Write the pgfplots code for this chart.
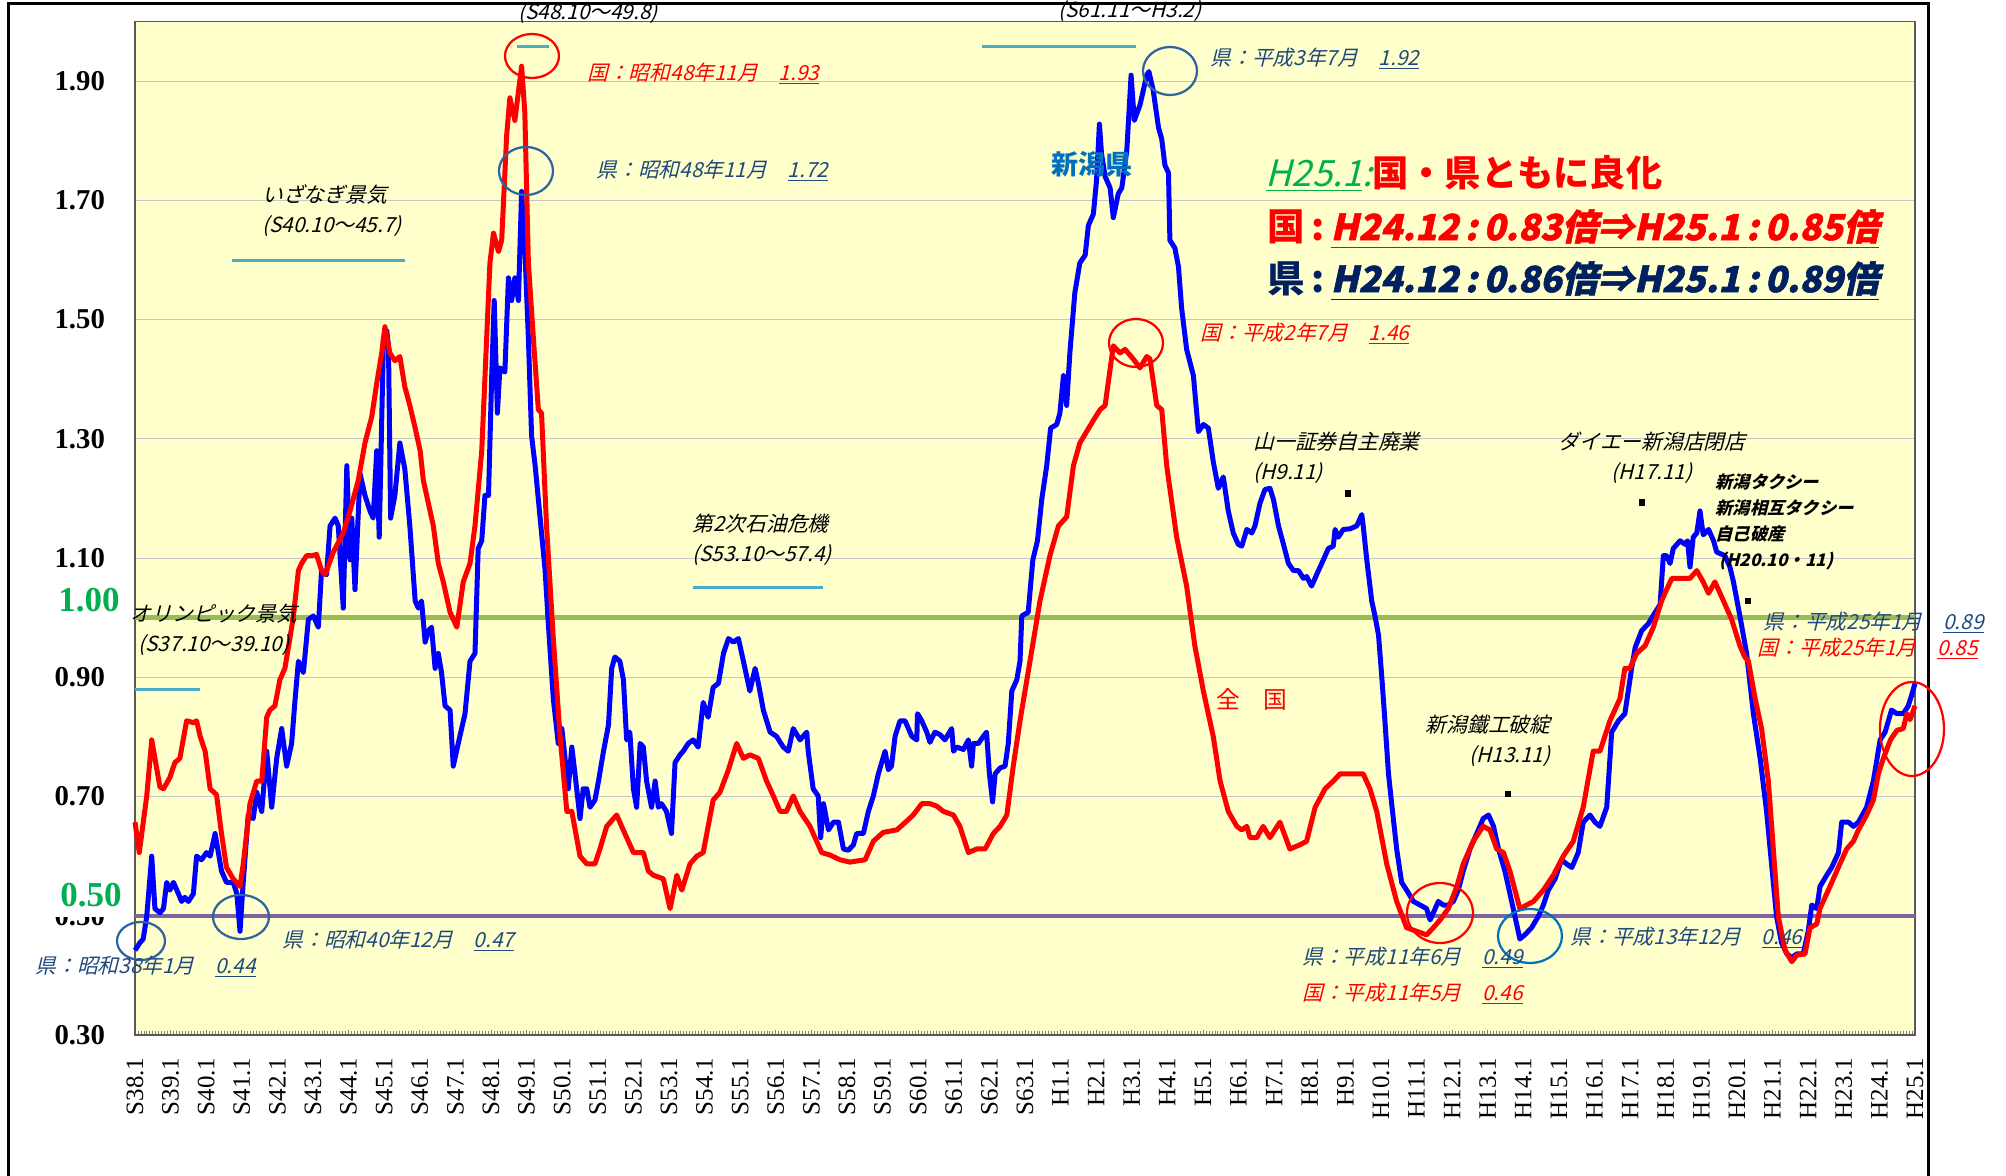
\documentclass[border=0pt]{standalone}
\usepackage{pgfplots}
\pgfplotsset{compat=1.18}
\usepackage{fontspec}
\setmainfont{Liberation Serif}
\newfontfamily\jp{Noto Sans CJK JP}
\newfontfamily\jpit{Noto Sans CJK JP}[FakeSlant=0.25]
\newfontfamily\jpheavy{Noto Sans CJK JP}[FakeSlant=0.22,BoldFeatures={FakeBold=1.5}]

\definecolor{bgyellow}{RGB}{255,255,204}
\definecolor{kenblue}{RGB}{31,73,125}
\definecolor{ellblue}{RGB}{46,100,160}
\definecolor{cyanbar}{RGB}{75,172,198}
\definecolor{oneline}{RGB}{155,187,89}
\definecolor{halfline}{RGB}{128,100,162}
\definecolor{hgreen}{RGB}{0,176,80}
\definecolor{navy}{RGB}{0,32,96}
\definecolor{niigata}{RGB}{0,112,192}

\begin{document}
\begin{tikzpicture}
\useasboundingbox (0,0) rectangle (802.4pt,-470.4pt);
% outer frame
\draw[black, line width=1.2pt] (3.2pt,-480pt) -- (3.2pt,-1.6pt) -- (771.2pt,-1.6pt) -- (771.2pt,-480pt);

\begin{axis}[
    at={(54pt,-414pt)}, anchor=south west,
    scale only axis, width=712pt, height=405.4pt,
    xmin=0, xmax=50, ymin=0.3, ymax=2.0,
    axis background/.style={fill=bgyellow},
    axis line style={draw=gray!70!black, line width=0.6pt},
    ytick={0.3,0.5,0.7,0.9,1.1,1.3,1.5,1.7,1.9},
    yticklabels={0.30,0.50,0.70,0.90,1.10,1.30,1.50,1.70,1.90},
    ymajorgrids, grid style={gray!45, line width=0.4pt},
    xtick={0,1,...,50},
    xticklabels={S38.1,S39.1,S40.1,S41.1,S42.1,S43.1,S44.1,S45.1,S46.1,S47.1,S48.1,S49.1,S50.1,S51.1,S52.1,S53.1,S54.1,S55.1,S56.1,S57.1,S58.1,S59.1,S60.1,S61.1,S62.1,S63.1,H1.1,H2.1,H3.1,H4.1,H5.1,H6.1,H7.1,H8.1,H9.1,H10.1,H11.1,H12.1,H13.1,H14.1,H15.1,H16.1,H17.1,H18.1,H19.1,H20.1,H21.1,H22.1,H23.1,H24.1,H25.1},
    xticklabel style={rotate=90, anchor=east, font=\fontsize{10}{10}\selectfont},
    yticklabel style={font=\bfseries\fontsize{11.5}{12}\selectfont},
    xtick pos=bottom, ytick pos=left,
    ytick style={draw=none},
    xtick style={draw=gray, line width=0.3pt},
    minor x tick num=11,
    tick align=inside, major tick length=2pt, minor tick length=1.5pt,
    xticklabel shift=5.5pt, yticklabel shift=8.5pt,
    clip=false,
]
% reference levels
\addplot[oneline, line width=1.8pt] coordinates {(0,1.00) (50,1.00)};
\addplot[halfline, line width=1.8pt] coordinates {(0,0.50) (50,0.50)};
% business cycle periods
\addplot[cyanbar, line width=1.3pt] coordinates {(0,0.880) (1.83,0.880)};
\addplot[cyanbar, line width=1.3pt] coordinates {(2.72,1.599) (7.58,1.599)};
\addplot[cyanbar, line width=1.3pt] coordinates {(10.72,1.958) (11.64,1.958)};
\addplot[cyanbar, line width=1.3pt] coordinates {(15.67,1.050) (19.32,1.050)};
\addplot[cyanbar, line width=1.3pt] coordinates {(23.78,1.958) (28.13,1.958)};

% 新潟県
\addplot[blue, line width=2pt, line join=round] coordinates {
(0.00,0.442)(0.14,0.455)(0.23,0.461)(0.33,0.499)(0.47,0.600)(0.56,0.512)(0.70,0.505)(0.80,0.512)(0.89,0.556)(0.98,0.543)
(1.08,0.556)(1.22,0.537)(1.31,0.524)(1.40,0.531)(1.50,0.524)(1.64,0.537)(1.73,0.600)(1.87,0.594)(2.01,0.606)(2.11,0.600)
(2.25,0.638)(2.43,0.575)(2.57,0.556)(2.76,0.556)(2.86,0.537)(2.95,0.474)(3.04,0.556)(3.18,0.669)(3.32,0.663)(3.42,0.707)
(3.56,0.675)(3.70,0.776)(3.84,0.682)(3.98,0.764)(4.12,0.814)(4.26,0.751)(4.40,0.789)(4.49,0.858)(4.59,0.927)(4.73,0.908)
(4.87,0.997)(5.01,1.003)(5.15,0.984)(5.24,1.079)(5.38,1.072)(5.48,1.154)(5.62,1.167)(5.71,1.154)(5.85,1.016)(5.95,1.255)
(6.04,1.097)(6.09,1.167)(6.18,1.047)(6.32,1.242)(6.46,1.205)(6.60,1.179)(6.69,1.167)(6.79,1.280)(6.86,1.135)(6.98,1.469)
(7.07,1.482)(7.12,1.456)(7.18,1.167)(7.30,1.205)(7.44,1.293)(7.58,1.249)(7.72,1.154)(7.87,1.028)(7.96,1.016)(8.05,1.028)
(8.15,0.959)(8.24,0.978)(8.33,0.984)(8.43,0.915)(8.52,0.940)(8.61,0.908)(8.71,0.852)(8.85,0.845)(8.94,0.751)(9.08,0.789)
(9.27,0.839)(9.41,0.927)(9.55,0.940)(9.64,1.116)(9.74,1.129)(9.83,1.205)(9.93,1.205)(10.02,1.406)(10.09,1.532)(10.18,1.343)
(10.25,1.419)(10.39,1.412)(10.49,1.570)(10.58,1.532)(10.67,1.570)(10.77,1.532)(10.86,1.715)(10.95,1.620)(11.05,1.469)(11.14,1.305)
(11.24,1.255)(11.38,1.167)(11.52,1.079)(11.61,0.990)(11.75,0.864)(11.89,0.789)(11.99,0.814)(12.08,0.764)(12.17,0.713)(12.27,0.783)
(12.36,0.738)(12.50,0.663)(12.59,0.713)(12.69,0.713)(12.78,0.682)(12.92,0.694)(13.02,0.726)(13.16,0.776)(13.30,0.820)(13.39,0.915)
(13.48,0.934)(13.62,0.927)(13.72,0.896)(13.81,0.795)(13.90,0.808)(14.00,0.713)(14.09,0.682)(14.19,0.789)(14.28,0.783)(14.37,0.726)
(14.51,0.682)(14.61,0.726)(14.70,0.682)(14.79,0.688)(14.93,0.675)(15.07,0.638)(15.17,0.757)(15.31,0.770)(15.40,0.776)(15.54,0.789)
(15.68,0.795)(15.82,0.783)(15.96,0.858)(16.10,0.833)(16.24,0.883)(16.39,0.890)(16.53,0.940)(16.67,0.965)(16.81,0.959)(16.95,0.965)
(17.09,0.927)(17.27,0.877)(17.42,0.915)(17.51,0.890)(17.65,0.845)(17.84,0.808)(18.02,0.801)(18.21,0.783)(18.35,0.776)(18.49,0.814)
(18.68,0.795)(18.87,0.808)(18.91,0.776)(19.05,0.713)(19.19,0.701)(19.26,0.631)(19.34,0.688)(19.48,0.644)(19.62,0.657)(19.76,0.657)
(19.90,0.612)(20.04,0.610)(20.18,0.619)(20.27,0.638)(20.46,0.638)(20.60,0.675)(20.74,0.701)(20.88,0.738)(21.07,0.776)(21.16,0.745)
(21.25,0.751)(21.35,0.801)(21.49,0.827)(21.63,0.827)(21.82,0.801)(21.96,0.795)(21.98,0.839)(22.10,0.827)(22.24,0.808)(22.33,0.791)
(22.47,0.808)(22.61,0.804)(22.75,0.795)(22.94,0.814)(22.99,0.776)(23.08,0.783)(23.27,0.779)(23.41,0.795)(23.50,0.751)(23.55,0.789)
(23.69,0.789)(23.83,0.801)(23.92,0.808)(24.00,0.738)(24.09,0.691)(24.16,0.738)(24.30,0.748)(24.44,0.751)(24.53,0.789)(24.63,0.877)
(24.77,0.896)(24.86,0.927)(24.91,1.003)(25.09,1.009)(25.22,1.097)(25.35,1.129)(25.47,1.198)(25.61,1.255)(25.72,1.318)(25.89,1.324)
(25.98,1.343)(26.08,1.406)(26.17,1.356)(26.26,1.444)(26.40,1.545)(26.54,1.595)(26.69,1.608)(26.78,1.658)(26.92,1.677)(27.01,1.734)
(27.09,1.828)(27.15,1.778)(27.25,1.740)(27.39,1.721)(27.48,1.671)(27.62,1.711)(27.72,1.721)(27.86,1.784)(27.98,1.910)(28.07,1.834)
(28.23,1.860)(28.42,1.910)(28.48,1.916)(28.60,1.885)(28.75,1.822)(28.84,1.803)(28.93,1.759)(29.03,1.746)(29.07,1.633)(29.21,1.620)
(29.31,1.589)(29.40,1.519)(29.54,1.450)(29.73,1.406)(29.87,1.312)(30.01,1.324)(30.15,1.318)(30.29,1.261)(30.43,1.217)(30.57,1.236)
(30.71,1.179)(30.85,1.142)(30.99,1.123)(31.09,1.120)(31.23,1.148)(31.37,1.142)(31.46,1.154)(31.60,1.192)(31.74,1.215)(31.88,1.217)
(31.98,1.198)(32.12,1.154)(32.26,1.123)(32.40,1.091)(32.54,1.079)(32.68,1.079)(32.82,1.066)(32.91,1.069)(33.05,1.053)(33.19,1.072)
(33.38,1.097)(33.52,1.116)(33.66,1.120)(33.71,1.148)(33.80,1.135)(33.94,1.148)(34.13,1.149)(34.32,1.154)(34.46,1.173)(34.50,1.154)
(34.60,1.097)(34.74,1.028)(34.83,1.003)(34.93,0.971)(35.02,0.902)(35.11,0.827)(35.21,0.738)(35.30,0.688)(35.44,0.612)(35.58,0.556)
(35.72,0.543)(35.91,0.524)(36.10,0.518)(36.28,0.512)(36.38,0.493)(36.47,0.505)(36.61,0.524)(36.75,0.518)(36.89,0.518)(37.03,0.524)
(37.17,0.543)(37.31,0.575)(37.50,0.612)(37.69,0.638)(37.87,0.663)(38.02,0.669)(38.16,0.650)(38.30,0.612)(38.48,0.575)(38.67,0.524)
(38.81,0.486)(38.90,0.461)(39.04,0.468)(39.23,0.480)(39.42,0.499)(39.56,0.518)(39.70,0.543)(39.89,0.562)(40.07,0.594)(40.21,0.587)
(40.36,0.581)(40.54,0.606)(40.68,0.657)(40.87,0.669)(41.01,0.657)(41.15,0.650)(41.34,0.682)(41.48,0.808)(41.67,0.827)(41.85,0.839)
(42.04,0.915)(42.14,0.950)(42.32,0.978)(42.51,0.990)(42.70,1.009)(42.84,1.022)(42.93,1.104)(43.02,1.104)(43.12,1.091)(43.21,1.116)
(43.40,1.129)(43.54,1.123)(43.61,1.129)(43.68,1.085)(43.77,1.135)(43.87,1.142)(43.96,1.179)(44.05,1.139)(44.20,1.148)(44.34,1.129)
(44.43,1.110)(44.66,1.104)(44.80,1.085)(44.90,1.060)(45.08,1.003)(45.27,0.940)(45.46,0.839)(45.65,0.764)(45.83,0.675)(45.97,0.587)
(46.11,0.499)(46.25,0.455)(46.40,0.436)(46.54,0.430)(46.68,0.436)(46.86,0.436)(47.00,0.474)(47.10,0.518)(47.24,0.512)(47.33,0.549)
(47.52,0.568)(47.66,0.581)(47.85,0.606)(47.94,0.657)(48.13,0.657)(48.27,0.650)(48.41,0.657)(48.64,0.682)(48.83,0.726)(49.02,0.795)
(49.16,0.808)(49.34,0.845)(49.49,0.839)(49.67,0.839)(49.81,0.852)(49.91,0.871)(50.00,0.890)
};

% 全国
\addplot[red, line width=2pt, line join=round] coordinates {
(0.00,0.657)(0.12,0.606)(0.33,0.701)(0.47,0.795)(0.56,0.764)(0.70,0.716)(0.80,0.713)(0.98,0.732)(1.12,0.757)(1.26,0.764)
(1.45,0.827)(1.64,0.824)(1.73,0.827)(1.83,0.801)(1.97,0.776)(2.11,0.713)(2.29,0.703)(2.43,0.638)(2.57,0.581)(2.76,0.562)
(2.95,0.549)(3.04,0.587)(3.23,0.688)(3.42,0.726)(3.56,0.726)(3.70,0.833)(3.79,0.845)(3.93,0.852)(4.07,0.896)(4.21,0.915)
(4.35,0.965)(4.45,1.003)(4.59,1.079)(4.68,1.091)(4.82,1.104)(4.96,1.104)(5.10,1.106)(5.24,1.079)(5.34,1.072)(5.57,1.110)
(5.85,1.142)(6.04,1.179)(6.27,1.230)(6.46,1.293)(6.65,1.337)(6.79,1.393)(6.93,1.444)(7.02,1.488)(7.16,1.444)(7.30,1.431)
(7.44,1.438)(7.58,1.387)(7.72,1.356)(7.87,1.318)(8.01,1.280)(8.10,1.230)(8.38,1.154)(8.52,1.091)(8.66,1.060)(8.85,1.009)
(9.04,0.984)(9.22,1.060)(9.41,1.091)(9.55,1.154)(9.74,1.280)(9.97,1.595)(10.07,1.645)(10.21,1.614)(10.30,1.633)(10.44,1.809)
(10.53,1.872)(10.67,1.834)(10.86,1.925)(10.95,1.847)(11.05,1.595)(11.19,1.469)(11.33,1.349)(11.42,1.343)(11.56,1.154)(11.75,0.965)
(11.94,0.801)(12.13,0.675)(12.27,0.675)(12.50,0.600)(12.69,0.587)(12.92,0.587)(13.06,0.612)(13.25,0.650)(13.53,0.669)(13.76,0.638)
(14.00,0.606)(14.28,0.606)(14.42,0.575)(14.56,0.568)(14.84,0.562)(15.03,0.512)(15.22,0.568)(15.36,0.543)(15.59,0.587)(15.78,0.600)
(15.96,0.606)(16.24,0.694)(16.43,0.707)(16.67,0.745)(16.90,0.789)(17.09,0.764)(17.27,0.770)(17.51,0.764)(17.74,0.726)(17.93,0.701)
(18.12,0.675)(18.30,0.675)(18.49,0.701)(18.68,0.675)(18.96,0.650)(19.29,0.606)(19.52,0.602)(19.80,0.594)(20.08,0.590)(20.51,0.594)
(20.74,0.625)(21.02,0.640)(21.40,0.644)(21.68,0.659)(21.86,0.669)(22.10,0.688)(22.33,0.688)(22.52,0.684)(22.71,0.675)(22.99,0.669)
(23.17,0.650)(23.41,0.606)(23.64,0.612)(23.88,0.612)(24.11,0.638)(24.30,0.650)(24.49,0.669)(24.67,0.751)(24.86,0.827)(25.14,0.927)
(25.42,1.028)(25.70,1.104)(25.94,1.154)(26.17,1.169)(26.36,1.255)(26.54,1.293)(26.73,1.312)(26.92,1.331)(27.11,1.349)(27.25,1.356)
(27.48,1.456)(27.67,1.444)(27.81,1.450)(28.04,1.434)(28.23,1.419)(28.42,1.438)(28.51,1.434)(28.70,1.356)(28.84,1.349)(28.98,1.255)
(29.26,1.135)(29.54,1.053)(29.77,0.953)(30.01,0.877)(30.29,0.800)(30.48,0.726)(30.71,0.675)(30.95,0.650)(31.09,0.644)(31.23,0.650)
(31.32,0.631)(31.51,0.631)(31.69,0.650)(31.88,0.631)(32.16,0.657)(32.44,0.612)(32.72,0.619)(32.91,0.625)(33.15,0.682)(33.43,0.713)
(33.66,0.726)(33.85,0.738)(34.13,0.738)(34.50,0.738)(34.69,0.713)(34.88,0.675)(35.16,0.587)(35.44,0.524)(35.72,0.480)(36.00,0.474)
(36.28,0.468)(36.47,0.480)(36.66,0.493)(36.89,0.512)(37.13,0.549)(37.31,0.587)(37.59,0.625)(37.87,0.650)(38.06,0.644)(38.25,0.612)
(38.44,0.606)(38.62,0.575)(38.90,0.512)(39.09,0.518)(39.28,0.524)(39.56,0.543)(39.84,0.568)(40.12,0.600)(40.40,0.625)(40.68,0.682)
(40.96,0.776)(41.15,0.776)(41.43,0.827)(41.71,0.864)(41.85,0.915)(41.99,0.915)(42.18,0.940)(42.42,0.953)(42.65,0.984)(42.88,1.028)
(43.02,1.047)(43.17,1.066)(43.40,1.066)(43.68,1.066)(43.87,1.079)(44.05,1.060)(44.20,1.041)(44.38,1.060)(44.62,1.028)(44.85,0.997)
(45.08,0.953)(45.22,0.934)(45.32,0.927)(45.51,0.864)(45.69,0.814)(45.88,0.726)(46.02,0.612)(46.16,0.499)(46.35,0.442)(46.54,0.423)
(46.68,0.434)(46.91,0.436)(47.05,0.480)(47.24,0.486)(47.33,0.512)(47.61,0.549)(47.89,0.587)(48.08,0.612)(48.27,0.625)(48.41,0.644)
(48.64,0.669)(48.83,0.694)(48.97,0.738)(49.11,0.764)(49.31,0.795)(49.49,0.811)(49.67,0.814)(49.77,0.839)(49.86,0.829)(50.00,0.852)
};

% event markers
\addplot[only marks, mark=square*, mark size=1.1pt, black] coordinates {(34.07,1.208) (38.57,0.704) (42.33,1.193) (45.31,1.028)};
\end{axis}

% annotations, in pixel units of the 2006x1176 picture
\begin{scope}[x=0.4pt, y=-0.4pt,
  ann/.style={inner sep=0pt, font=\jpit\fontsize{8.3}{12}\selectfont},
  big/.style={inner sep=0pt, anchor=west}]
% green level labels
\node[text=hgreen, font=\bfseries\fontsize{14}{14}\selectfont, inner sep=0pt] at (89,600) {1.00};
\fill[white] (52,879) rectangle (128,917);
\node[text=hgreen, font=\bfseries\fontsize{14}{14}\selectfont, inner sep=0pt] at (91,895) {0.50};

% ellipses
\draw[ellblue, line width=0.9pt] (141,941) ellipse [x radius=24, y radius=19];
\draw[ellblue, line width=0.9pt] (241,917) ellipse [x radius=28, y radius=22];
\draw[red, line width=0.9pt] (532,56) ellipse [x radius=27, y radius=22];
\draw[ellblue, line width=0.9pt] (526,171) ellipse [x radius=27, y radius=24];
\draw[ellblue, line width=0.9pt] (1170,71) ellipse [x radius=27, y radius=24];
\draw[red, line width=0.9pt] (1136,343) ellipse [x radius=27, y radius=24];
\draw[red, line width=0.9pt] (1440,913) ellipse [x radius=33, y radius=30];
\draw[niigata, line width=0.9pt] (1530,936) ellipse [x radius=32, y radius=27];
\draw[red, line width=0.9pt] (1912,729) ellipse [x radius=32, y radius=47];

% value notes
\node[ann, anchor=west, text=kenblue] at (35,967) {県：昭和38年1月　\underline{0.44}};
\node[ann, anchor=west, text=kenblue] at (282,941) {県：昭和40年12月　\underline{0.47}};
\node[ann, anchor=west, text=red] at (587,74) {国：昭和48年11月　\underline{1.93}};
\node[ann, anchor=west, text=kenblue] at (596,171) {県：昭和48年11月　\underline{1.72}};
\node[ann, anchor=west, text=kenblue] at (1210,59) {県：平成3年7月　\underline{1.92}};
\node[ann, anchor=west, text=red] at (1200,334) {国：平成2年7月　\underline{1.46}};
\node[ann, anchor=west, text=kenblue] at (1302,958) {県：平成11年6月　\underline{0.49}};
\node[ann, anchor=west, text=red] at (1302,994) {国：平成11年5月　\underline{0.46}};
\node[ann, anchor=west, text=kenblue] at (1570,938) {県：平成13年12月　\underline{0.46}};
\node[ann, anchor=west, text=kenblue] at (1763,623) {県：平成25年1月　\underline{0.89}};
\node[ann, anchor=west, text=red] at (1757,649) {国：平成25年1月　\underline{0.85}};

% events
\node[ann, align=left, anchor=west] at (262,211) {いざなぎ景気\\(S40.10〜45.7)};
\node[ann, align=center] at (214,630) {オリンピック景気\\(S37.10〜39.10)};
\node[ann] at (588,13) {(S48.10〜49.8)};
\node[ann, align=left, anchor=west] at (692,540) {第2次石油危機\\(S53.10〜57.4)};
\node[ann] at (1130,11) {(S61.11〜H3.2)};
\node[ann, align=left, anchor=west] at (1253,458) {山一証券自主廃業\\(H9.11)};
\node[ann, align=right, anchor=east] at (1551,741) {新潟鐵工破綻\\(H13.11)};
\node[ann, align=center] at (1652,458) {ダイエー新潟店閉店\\(H17.11)};
\node[inner sep=0pt, align=left, anchor=west, font=\jpit\bfseries\fontsize{6.9}{10.3}\selectfont] at (1715,522) {新潟タクシー\\新潟相互タクシー\\自己破産\\\ (H20.10・11)};

% series names
\node[inner sep=0pt, text=niigata, font=\jp\bfseries\fontsize{10.8}{11}\selectfont] at (1092,164) {新潟県};
\node[inner sep=0pt, text=red, font=\jp\fontsize{9.5}{10}\selectfont] at (1252,699) {全　国};

% headline block
\node[big] at (1265,174) {{\color{hgreen}\jpit\fontsize{14.5}{15}\selectfont\underline{H25.1}:}{\color{red}\jp\bfseries\fontsize{14.5}{15}\selectfont 国・県ともに良化}};
\node[big] at (1267,229) {{\color{red}\jp\bfseries\fontsize{15}{15}\selectfont 国\,:\,}{\color{red}\jpheavy\bfseries\fontsize{14.4}{15}\selectfont\underline{H24.12\,:\,0.83倍⇒H25.1\,:\,0.85倍}}};
\node[big] at (1267,281) {{\color{navy}\jp\bfseries\fontsize{15}{15}\selectfont 県\,:\,}{\color{navy}\jpheavy\bfseries\fontsize{14.4}{15}\selectfont\underline{H24.12\,:\,0.86倍⇒H25.1\,:\,0.89倍}}};
\end{scope}
\end{tikzpicture}
\end{document}
